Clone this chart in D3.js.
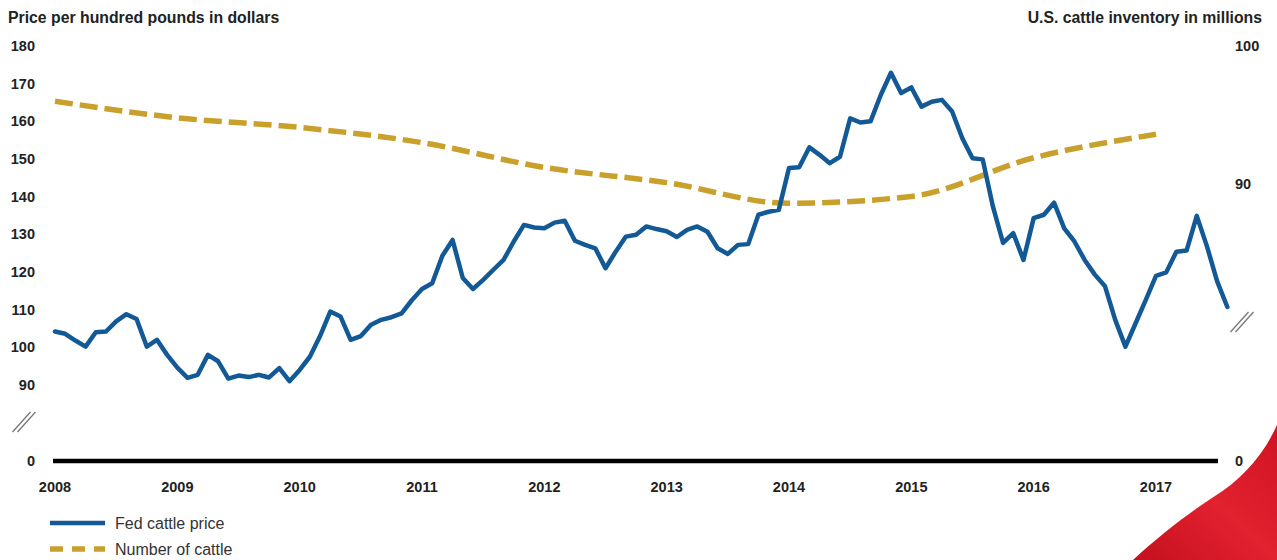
<!DOCTYPE html>
<html>
<head>
<meta charset="utf-8">
<script src="https://cdn.jsdelivr.net/npm/d3@7"></script>
<style>
  body { margin: 0; background: #fff; }
  text { font-family: "Liberation Sans", Arial, sans-serif; }
</style>
</head>
<body>
<svg id="chart" width="1277" height="560"></svg>
<script>
// monthly fed cattle price, Jan 2008 .. Aug 2017 ($ per cwt)
const priceValues = [
  104.2, 103.6, 101.8, 100.2, 104.0, 104.2, 106.9, 108.8, 107.5, 100.2, 102.0, 98.0,
  94.6, 91.9, 92.7, 98.0, 96.3, 91.7, 92.5, 92.1, 92.7, 92.0, 94.5, 91.0,
  94.0, 97.5, 103.0, 109.5, 108.2, 102.0, 103.0, 106.0, 107.3, 108.0, 109.0, 112.5,
  115.5, 117.0, 124.3, 128.5, 118.4, 115.5, 117.9, 120.6, 123.2, 128.1, 132.5, 131.8,
  131.6, 133.1, 133.6, 128.3, 127.2, 126.3, 121.0, 125.4, 129.4, 129.9, 132.1, 131.4,
  130.8, 129.3, 131.2, 132.1, 130.7, 126.3, 124.8, 127.2, 127.4, 135.2, 136.0, 136.5,
  147.6, 147.8, 153.1, 151.1, 148.9, 150.6, 160.8, 159.7, 160.0, 167.0, 172.9, 167.5,
  169.0, 163.9, 165.2, 165.7, 162.6, 155.5, 150.2, 149.9, 137.4, 127.7, 130.3, 123.2,
  134.3, 135.2, 138.4, 131.6, 128.1, 123.2, 119.3, 116.2, 107.3, 100.2, 106.4, 112.6,
  119.0, 119.9, 125.4, 125.7, 134.9, 126.8, 117.5, 110.7
];
// January 1 cattle inventory, millions of head
const cattleYears = [2008, 2009, 2010, 2011, 2012, 2013, 2014, 2015, 2016, 2017];
const cattleValues = [96.0, 94.8, 94.1, 93.0, 91.2, 90.1, 88.6, 89.1, 91.9, 93.6];

const yearTicks = [2008, 2009, 2010, 2011, 2012, 2013, 2014, 2015, 2016, 2017];
const priceTicks = [90, 100, 110, 120, 130, 140, 150, 160, 170, 180];
const cattleTicks = [90, 100];

const svg = d3.select("#chart");
const baseY = 461;

const x = d3.scaleLinear().domain([2008, 2017]).range([55, 1156]);
const yP = d3.scaleLinear().domain([90, 180]).range([385, 46]);
const yC = d3.scaleLinear().domain([90, 100]).range([184, 46]);

const priceData = priceValues.map((v, i) => ({ t: 2008 + i / 12, v }));
const cattleData = cattleYears.map((yr, i) => ({ t: yr, v: cattleValues[i] }));

// red ribbon in the corner
const defs = svg.append("defs");
const grad = defs.append("linearGradient").attr("id", "ribbon")
  .attr("x1", "0").attr("y1", "1").attr("x2", "1").attr("y2", "0");
grad.append("stop").attr("offset", "0").attr("stop-color", "#c4101f");
grad.append("stop").attr("offset", "0.5").attr("stop-color", "#e3212f");
grad.append("stop").attr("offset", "1").attr("stop-color", "#cf1322");
svg.append("path")
  .attr("d", "M1133,560 C1160,535 1190,512 1215,496 C1240,480 1262,458 1277,425 L1277,560 Z")
  .attr("fill", "url(#ribbon)");

// titles
svg.append("text").attr("x", 8).attr("y", 23)
  .attr("font-size", 15.8).attr("font-weight", "bold").attr("fill", "#222")
  .text("Price per hundred pounds in dollars");
svg.append("text").attr("x", 1262).attr("y", 23).attr("text-anchor", "end")
  .attr("font-size", 15.8).attr("font-weight", "bold").attr("fill", "#222")
  .text("U.S. cattle inventory in millions");

// left axis labels
const leftAxis = svg.append("g")
  .attr("font-size", 14.5).attr("font-weight", "bold").attr("fill", "#222")
  .attr("text-anchor", "end");
leftAxis.selectAll("text.tick").data(priceTicks).join("text")
  .attr("class", "tick").attr("x", 35).attr("y", d => yP(d)).attr("dy", "0.35em")
  .text(d => d);
leftAxis.append("text").attr("x", 35).attr("y", baseY).attr("dy", "0.35em").text("0");

// right axis labels
const rightAxis = svg.append("g")
  .attr("font-size", 14.5).attr("font-weight", "bold").attr("fill", "#222");
rightAxis.selectAll("text.tick").data(cattleTicks).join("text")
  .attr("class", "tick").attr("x", 1235).attr("y", d => yC(d)).attr("dy", "0.35em")
  .text(d => d);
rightAxis.append("text").attr("x", 1235).attr("y", baseY).attr("dy", "0.35em").text("0");

// axis break marks
function breakMark(cx, cy) {
  [-2.5, 2.5].forEach(o => {
    svg.append("line")
      .attr("x1", cx - 9 + o).attr("y1", cy + 10)
      .attr("x2", cx + 9 + o).attr("y2", cy - 10)
      .attr("stroke", "#777").attr("stroke-width", 1.3);
  });
}
breakMark(24, 422);
breakMark(1242, 322);

// baseline
svg.append("line").attr("x1", 53).attr("x2", 1218).attr("y1", baseY).attr("y2", baseY)
  .attr("stroke", "#000").attr("stroke-width", 4.5);

// x axis labels
svg.append("g")
  .attr("font-size", 14.5).attr("font-weight", "bold").attr("fill", "#222")
  .attr("text-anchor", "middle")
  .selectAll("text").data(yearTicks).join("text")
  .attr("x", d => x(d)).attr("y", 487).attr("dy", "0.35em").text(d => d);

// cattle inventory (dashed)
svg.append("path").datum(cattleData)
  .attr("d", d3.line().x(d => x(d.t)).y(d => yC(d.v)).curve(d3.curveMonotoneX))
  .attr("fill", "none").attr("stroke", "#c9a02c").attr("stroke-width", 5.5)
  .attr("stroke-dasharray", "18,7");

// fed cattle price
svg.append("path").datum(priceData)
  .attr("d", d3.line().x(d => x(d.t)).y(d => yP(d.v)))
  .attr("fill", "none").attr("stroke", "#135996").attr("stroke-width", 4.5)
  .attr("stroke-linejoin", "round").attr("stroke-linecap", "round");

// legend
const legend = svg.append("g");
legend.append("line").attr("x1", 50).attr("x2", 105).attr("y1", 523).attr("y2", 523)
  .attr("stroke", "#135996").attr("stroke-width", 4.5);
legend.append("line").attr("x1", 50).attr("x2", 105).attr("y1", 549).attr("y2", 549)
  .attr("stroke", "#c9a02c").attr("stroke-width", 5.5).attr("stroke-dasharray", "13,9");
legend.append("text").attr("x", 115).attr("y", 523).attr("dy", "0.35em")
  .attr("font-size", 16).attr("fill", "#333").text("Fed cattle price");
legend.append("text").attr("x", 115).attr("y", 549).attr("dy", "0.35em")
  .attr("font-size", 16).attr("fill", "#333").text("Number of cattle");
</script>
</body>
</html>
